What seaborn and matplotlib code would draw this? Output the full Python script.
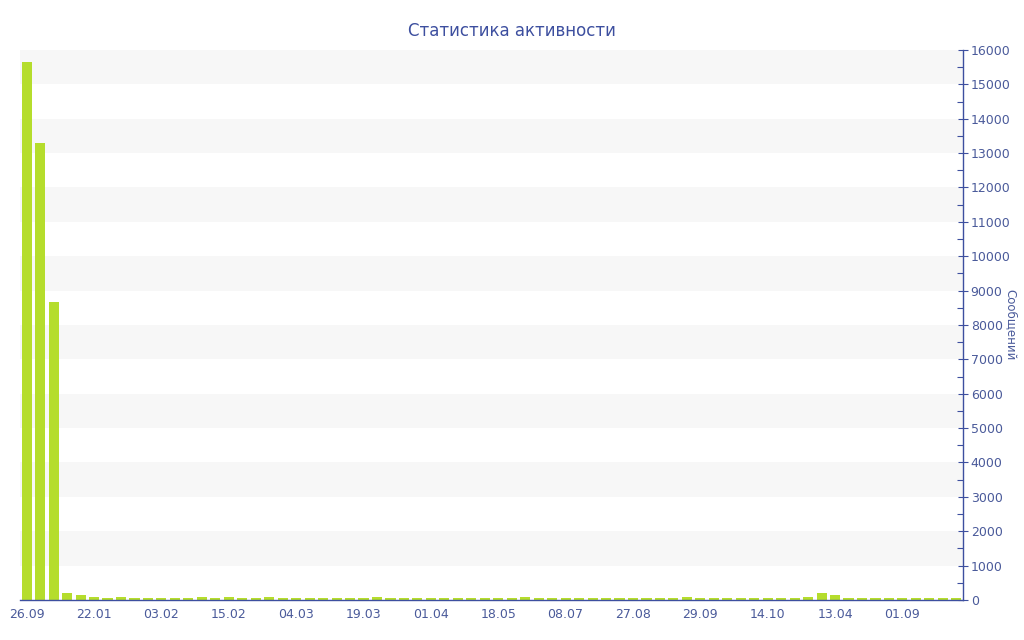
import numpy as np
import pandas as pd
import seaborn as sns
import matplotlib.pyplot as plt
from matplotlib.ticker import MultipleLocator

# messages per period (bars left to right)
messages = [15650, 13300, 8670, 210, 135, 75, 60, 95, 60, 55,
            55, 45, 45, 90, 60, 75, 70, 70, 100, 55,
            55, 55, 55, 50, 45, 50, 75, 50, 50, 60,
            45, 45, 45, 45, 50, 60, 45, 85, 50, 45,
            45, 45, 45, 45, 45, 45, 45, 45, 45, 75,
            65, 55, 55, 55, 45, 45, 55, 50, 95, 200,
            150, 60, 45, 45, 45, 45, 45, 45, 45, 45]
tick_labels = ["26.09", "22.01", "03.02", "15.02", "04.03", "19.03", "01.04",
               "18.05", "08.07", "27.08", "29.09", "14.10", "13.04", "01.09"]
tick_step = 5

df = pd.DataFrame({"idx": range(len(messages)), "messages": messages})

blue = "#3d4f9f"
text_blue = "#4a5a9a"

sns.set_style("white")
plt.rcParams['font.family'] = ['DejaVu Sans']

fig = plt.figure(figsize=(10.24, 6.4), dpi=100)
ax = fig.add_axes([0.0195, 0.0625, 0.921, 0.8594])

# alternating bands
for lo in range(1000, 16000, 2000):
    ax.axhspan(lo, lo + 1000, color="#f7f7f7", zorder=0, lw=0)

sns.barplot(data=df, x="idx", y="messages", color="#b5dd2c", saturation=1,
            width=0.75, linewidth=0, ax=ax, zorder=2)

ax.set_ylim(0, 16000)
ax.set_xlim(-0.5, len(messages) - 0.5)
ax.yaxis.tick_right()
ax.yaxis.set_label_position("right")
ax.yaxis.set_major_locator(MultipleLocator(1000))
ax.yaxis.set_minor_locator(MultipleLocator(500))
ax.set_xticks(np.arange(len(tick_labels)) * tick_step)
ax.set_xticklabels(tick_labels)

ax.tick_params(axis="both", colors=blue, labelcolor=text_blue, labelsize=9,
               direction="inout", length=7, width=0.8, pad=2)
ax.tick_params(axis="y", which="minor", colors=blue, direction="in", length=4, width=0.8)

for side in ["left", "top"]:
    ax.spines[side].set_visible(False)
for side in ["bottom", "right"]:
    ax.spines[side].set_color(blue)
    ax.spines[side].set_linewidth(1.0)

ax.set_xlabel("")
ax.set_ylabel("Сообщений", color=text_blue, fontsize=8.5, rotation=270, labelpad=5)
fig.suptitle("Статистика активности", color=blue, fontsize=12, y=0.965)

fig.savefig("out.png", dpi=100)
